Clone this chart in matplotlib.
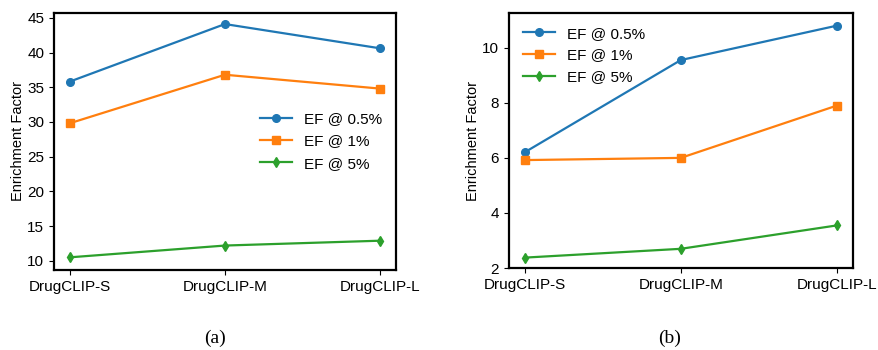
import matplotlib
matplotlib.use("Agg")
import matplotlib.pyplot as plt

models = ["DrugCLIP-S", "DrugCLIP-M", "DrugCLIP-L"]
series_labels = ["EF @ 0.5%", "EF @ 1%", "EF @ 5%"]

# panel (a)
a_ef05 = [35.8, 44.1, 40.6]
a_ef1 = [29.8, 36.8, 34.8]
a_ef5 = [10.5, 12.2, 12.9]

# panel (b)
b_ef05 = [6.2, 9.55, 10.8]
b_ef1 = [5.92, 6.0, 7.9]
b_ef5 = [2.38, 2.7, 3.55]

plt.rcParams['font.family'] = ['Liberation Sans', 'DejaVu Sans']

fig = plt.figure(figsize=(8.79, 3.5), dpi=100)
ax1 = fig.add_axes([0.0614, 0.229, 0.389, 0.734])
ax2 = fig.add_axes([0.579, 0.234, 0.391, 0.729])

colors = ["#1f77b4", "#ff7f0e", "#2ca02c"]
markers = ["o", "s", "d"]
x = list(range(len(models)))

def draw(ax, data, loc, ylim, yticks, lspace):
    for vals, lab, c, m in zip(data, series_labels, colors, markers):
        ax.plot(x, vals, color=c, marker=m, markersize=5.5, linewidth=1.6, label=lab)
    ax.set_xticks(x)
    ax.set_xticklabels(models, fontsize=11)
    ax.set_xlim(-0.1, 2.1)
    ax.set_ylim(*ylim)
    ax.set_yticks(yticks)
    ax.tick_params(axis='y', labelsize=11)
    ax.set_ylabel("Enrichment Factor", fontsize=10.5, labelpad=1.5)
    for s in ax.spines.values():
        s.set_linewidth(1.6)
    ax.legend(loc=loc, frameon=False, fontsize=11, handlelength=2.1,
              handletextpad=0.8, labelspacing=lspace)

draw(ax1, [a_ef05, a_ef1, a_ef5], "center right", (8.7, 45.7), [10, 15, 20, 25, 30, 35, 40, 45], 0.55)
draw(ax2, [b_ef05, b_ef1, b_ef5], "upper left", (2.0, 11.26), [2, 4, 6, 8, 10], 0.5)

fig.text(0.245, 0.02, "(a)", family="Liberation Serif", fontsize=14, ha="center")
fig.text(0.762, 0.02, "(b)", family="Liberation Serif", fontsize=14, ha="center")

fig.savefig("out.png", dpi=100)
